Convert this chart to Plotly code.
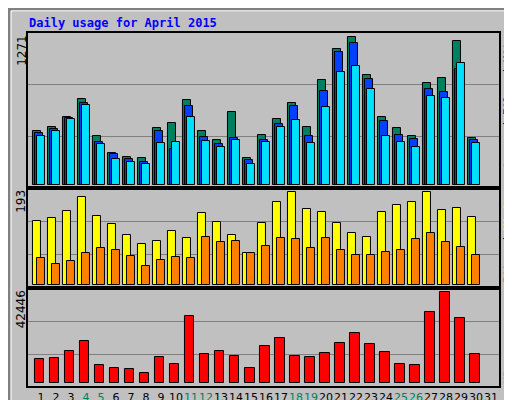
import plotly.graph_objects as go
from plotly.subplots import make_subplots

days = list(range(1, 32))
hits = [464, 498, 584, 739, 421, 275, 241, 232, 490, 533, 730, 464, 387, 627, 232,
        430, 567, 704, 498, 902, 1168, 1271, 945, 584, 490, 421, 876, 919, 1237, 404, None]
files = [447, 481, 576, 704, 369, 266, 223, 198, 464, 309, 679, 412, 352, 404, 215,
         387, 524, 679, 421, 807, 1142, 1220, 911, 550, 430, 395, 825, 799, 996, 387, None]
pages = [421, 464, 567, 687, 352, 223, 198, 180, 361, 369, 584, 378, 326, 387, 180,
         369, 498, 558, 361, 670, 971, 1022, 825, 421, 369, 326, 765, 747, 1048, 361, None]
visits = [134, 139, 153, 183, 143, 126, 103, 84, 91, 112, 97, 149, 130, 103, 66,
          128, 172, 193, 158, 151, 128, 109, 99, 151, 166, 172, 193, 155, 160, 141, None]
sites = [55, 43, 49, 66, 76, 72, 59, 40, 51, 57, 55, 99, 89, 91, 66,
         80, 97, 95, 76, 97, 72, 63, 63, 68, 72, 95, 109, 89, 78, 63, None]
kbytes = [11352, 11818, 15084, 19749, 8553, 7153, 6687, 4821, 12285, 9019, 31411, 13684,
          15084, 12751, 7153, 17416, 21148, 12751, 12285, 14151, 18816, 23481, 18349,
          14617, 9019, 8553, 33277, 42446, 30478, 13684, None]
weekends = [4, 5, 11, 12, 18, 19, 25, 26]

HITS, FILES, PAGES = "#008060", "#0040FF", "#00E0FF"
VISITS, SITES, KB = "#FFFF00", "#FF8000", "#FF0000"
BG = "#C0C0C0"

fig = make_subplots(rows=3, cols=1, shared_xaxes=True)


def bars(y, color, offset, width, row):
    fig.add_trace(go.Bar(x=days, y=y, offset=offset, width=width,
                         marker=dict(color=color, line=dict(color="black", width=1)),
                         showlegend=False), row=row, col=1)


bars(hits, HITS, -0.533, 0.533, 1)
bars(files, FILES, -0.4, 0.533, 1)
bars(pages, PAGES, -0.267, 0.533, 1)
bars(visits, VISITS, -0.533, 0.533, 2)
bars(sites, SITES, -0.267, 0.533, 2)
bars(kbytes, KB, -0.42, 0.65, 3)

ticktext = []
for d in days:
    c = HITS if d in weekends else "black"
    ticktext.append("<span style='color:%s'>%d</span>" % (c, d))

axis_common = dict(showline=True, linecolor="black", linewidth=2, mirror=True,
                   zeroline=False)
for i in (1, 2, 3):
    fig.update_xaxes(range=[0.133, 31.53], domain=[0.039, 0.959],
                     showgrid=False, ticks="", row=i, col=1, **axis_common)
fig.update_xaxes(tickmode="array", tickvals=days, ticktext=ticktext, tickangle=0,
                 showticklabels=True, tickfont=dict(size=11, family="DejaVu Sans"),
                 row=3, col=1)

grid = dict(showgrid=True, gridcolor="#808080", gridwidth=1, showticklabels=False,
            ticks="", **axis_common)
fig.update_yaxes(range=[-26, 1305], domain=[0.55, 0.9375], tickvals=[418, 862],
                 row=1, col=1, **grid)
fig.update_yaxes(range=[-7, 202], domain=[0.3, 0.55], tickvals=[63, 132],
                 row=2, col=1, **grid)
fig.update_yaxes(range=[-1259, 44451], domain=[0.055, 0.3], tickvals=[13660, 29050],
                 row=3, col=1, **grid)

mono = "DejaVu Sans Mono"
P = dict(xref="paper", yref="paper", showarrow=False)
ann = [
    dict(x=0.037, y=0.9625, xanchor="left", yanchor="middle",
         text="<b>Daily usage for April 2015</b>",
         font=dict(family=mono, size=12, color="#0000FF"), **P),
    dict(x=0.026, y=0.9375, xanchor="center", yanchor="top", textangle=-90,
         text=str(max(h for h in hits if h)), font=dict(family="DejaVu Sans", size=12, color="black"), **P),
    dict(x=0.026, y=0.55, xanchor="center", yanchor="top", textangle=-90,
         text=str(max(v for v in visits if v)), font=dict(family="DejaVu Sans", size=12, color="black"), **P),
    dict(x=0.026, y=0.3, xanchor="center", yanchor="top", textangle=-90,
         text=str(max(k for k in kbytes if k)), font=dict(family="DejaVu Sans", size=12, color="black"), **P),
    dict(x=0.976, y=0.9375, xanchor="center", yanchor="top", textangle=-90,
         text="<span style='color:%s'>Pages</span> / <span style='color:%s'>Files</span>"
              " / <span style='color:%s'>Hits</span>" % (PAGES, FILES, HITS),
         font=dict(family=mono, size=11, color="black"), **P),
    dict(x=0.976, y=0.55, xanchor="center", yanchor="top", textangle=-90,
         text="<span style='color:%s'>Sites</span> / <span style='color:%s'>Visits</span>"
              % (SITES, VISITS),
         font=dict(family=mono, size=11, color="black"), **P),
    dict(x=0.976, y=0.055, xanchor="center", yanchor="bottom", textangle=-90,
         text="KBytes", font=dict(family=mono, size=11, color=KB), **P),
]

fig.update_layout(
    width=512, height=400,
    margin=dict(l=0, r=0, t=0, b=0),
    paper_bgcolor=BG, plot_bgcolor=BG,
    barmode="overlay", bargap=0,
    annotations=ann,
    shapes=[
        dict(type="rect", xref="paper", yref="paper", x0=0.002, x1=0.998, y0=0.003, y1=0.997,
             line=dict(color="#808080", width=3)),
        dict(type="rect", xref="paper", yref="paper", x0=0.006, x1=0.986, y0=0.012, y1=0.993,
             line=dict(color="white", width=1)),
    ],
)

fig.write_html("out.html")
